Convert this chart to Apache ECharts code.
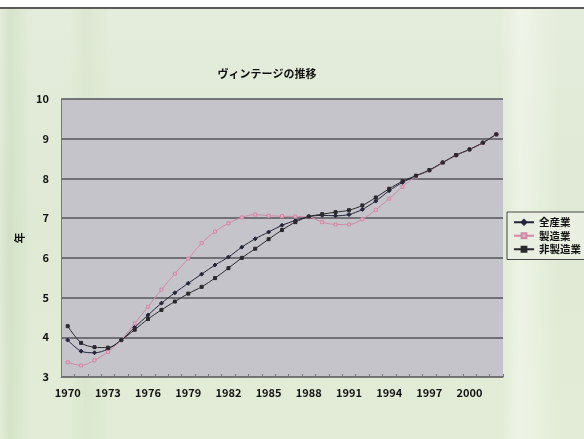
<!DOCTYPE html>
<html>
<head>
<meta charset="utf-8">
<script src="https://cdn.jsdelivr.net/npm/echarts@6/dist/echarts.min.js"></script>
<style>
  html, body { margin: 0; padding: 0; width: 584px; height: 439px; overflow: hidden; background: #ffffff; }
  #frame {
    position: absolute; left: 0; top: 7px; width: 584px; height: 432px;
    border-top: 2px solid #5a5a5a;
    background:
      linear-gradient(90deg, rgba(255,255,255,0) 0px, rgba(190,210,175,0.35) 10px, rgba(255,255,255,0) 30px,
        rgba(255,255,255,0) 70px, rgba(205,222,192,0.35) 85px, rgba(255,255,255,0) 110px,
        rgba(255,255,255,0) 500px, rgba(246,250,240,0.6) 520px, rgba(255,255,255,0) 560px),
      linear-gradient(180deg, #e4ecdb 0%, #dfe9d4 50%, #e2ecd6 100%);
  }
  #chart { position: absolute; left: 0; top: 0; width: 584px; height: 439px; }
</style>
</head>
<body>
<div id="frame"></div>
<div id="chart"></div>
<script>
// Years 1970–2002
const years = [];
for (let y = 1970; y <= 2002; y++) years.push(String(y));

// Tick labels shown on the year axis
const yearLabels = ['1970','1973','1976','1979','1982','1985','1988','1991','1994','1997','2000'];

// Vintage (years) by sector
const allIndustry = [3.93, 3.65, 3.61, 3.70, 3.93, 4.25, 4.56, 4.86, 5.12, 5.36, 5.59, 5.82, 6.02,
  6.27, 6.48, 6.65, 6.82, 6.94, 7.04, 7.07, 7.06, 7.09, 7.22, 7.43, 7.69, 7.90, 8.06,
  8.20, 8.40, 8.58, 8.73, 8.90, 9.11];
const manufacturing = [3.37, 3.29, 3.42, 3.63, 3.93, 4.35, 4.77, 5.20, 5.60, 5.98, 6.37, 6.66, 6.87,
  7.02, 7.09, 7.06, 7.05, 7.04, 7.03, 6.90, 6.84, 6.84, 6.97, 7.21, 7.49, 7.79, 8.05,
  8.20, 8.39, 8.58, 8.73, 8.90, 9.11];
const nonManufacturing = [4.28, 3.86, 3.75, 3.74, 3.93, 4.19, 4.46, 4.69, 4.90, 5.10, 5.27, 5.49, 5.74,
  6.00, 6.23, 6.47, 6.70, 6.90, 7.04, 7.10, 7.15, 7.20, 7.32, 7.52, 7.74, 7.93, 8.07,
  8.21, 8.40, 8.59, 8.73, 8.90, 9.11];

const labelSet = new Set(yearLabels);
const font = '"Noto Sans CJK JP", "Liberation Sans", sans-serif';

function lineSeries(name, data, color, fill, symbol, size) {
  return {
    name, type: 'line', data, smooth: 0.3,
    symbol, symbolSize: size, showSymbol: true,
    lineStyle: { color, width: 1 },
    itemStyle: { color: fill, borderColor: color, borderWidth: 1 },
    emphasis: { disabled: true }
  };
}

const chart = echarts.init(document.getElementById('chart'), null, { renderer: 'canvas' });
chart.setOption({
  animation: false,
  backgroundColor: 'transparent',
  title: {
    text: 'ヴィンテージの推移',
    left: 262, top: 63, textAlign: 'center',
    textStyle: { fontFamily: font, fontSize: 11, fontWeight: 'bold', color: '#111' }
  },
  grid: { left: 61, right: 81, top: 99, bottom: 62, backgroundColor: '#c5c4cb', show: true, borderWidth: 0 },
  legend: {
    orient: 'vertical', left: 507, top: 212,
    padding: [5, 6, 5, 6], itemGap: 3, itemWidth: 20, itemHeight: 6,
    backgroundColor: '#e9f0e1', borderColor: '#444', borderWidth: 1,
    textStyle: { fontFamily: font, fontSize: 10.5, fontWeight: 'bold', color: '#111' },
    data: ['全産業', '製造業', '非製造業']
  },
  xAxis: {
    type: 'category', data: years, boundaryGap: true,
    axisLine: { lineStyle: { color: '#777', width: 1 } },
    axisTick: { show: true, inside: true, length: 3, interval: 0, lineStyle: { color: '#777' } },
    axisLabel: {
      interval: 0, margin: 10,
      fontFamily: font, fontSize: 11, fontWeight: 'bold', color: '#111',
      formatter: v => labelSet.has(v) ? v : ''
    },
    splitLine: { show: false }
  },
  yAxis: {
    type: 'value', min: 3, max: 10, interval: 1,
    name: '年', nameLocation: 'middle', nameGap: 35, nameRotate: 90,
    nameTextStyle: { fontFamily: font, fontSize: 11, fontWeight: 'bold', color: '#111' },
    axisLine: { show: true, lineStyle: { color: '#777' } },
    axisTick: { show: false },
    axisLabel: { fontFamily: font, fontSize: 11, fontWeight: 'bold', color: '#111', margin: 12 },
    splitLine: { show: true, lineStyle: { color: '#55555a', width: 1.5 } }
  },
  series: [
    lineSeries('全産業', allIndustry, '#26263a', '#26263a', 'diamond', 4),
    lineSeries('製造業', manufacturing, '#d08aa6', '#dcb6c6', 'rect', 3),
    lineSeries('非製造業', nonManufacturing, '#2a2a2e', '#2a2a2e', 'rect', 3)
  ]
});
</script>
</body>
</html>
